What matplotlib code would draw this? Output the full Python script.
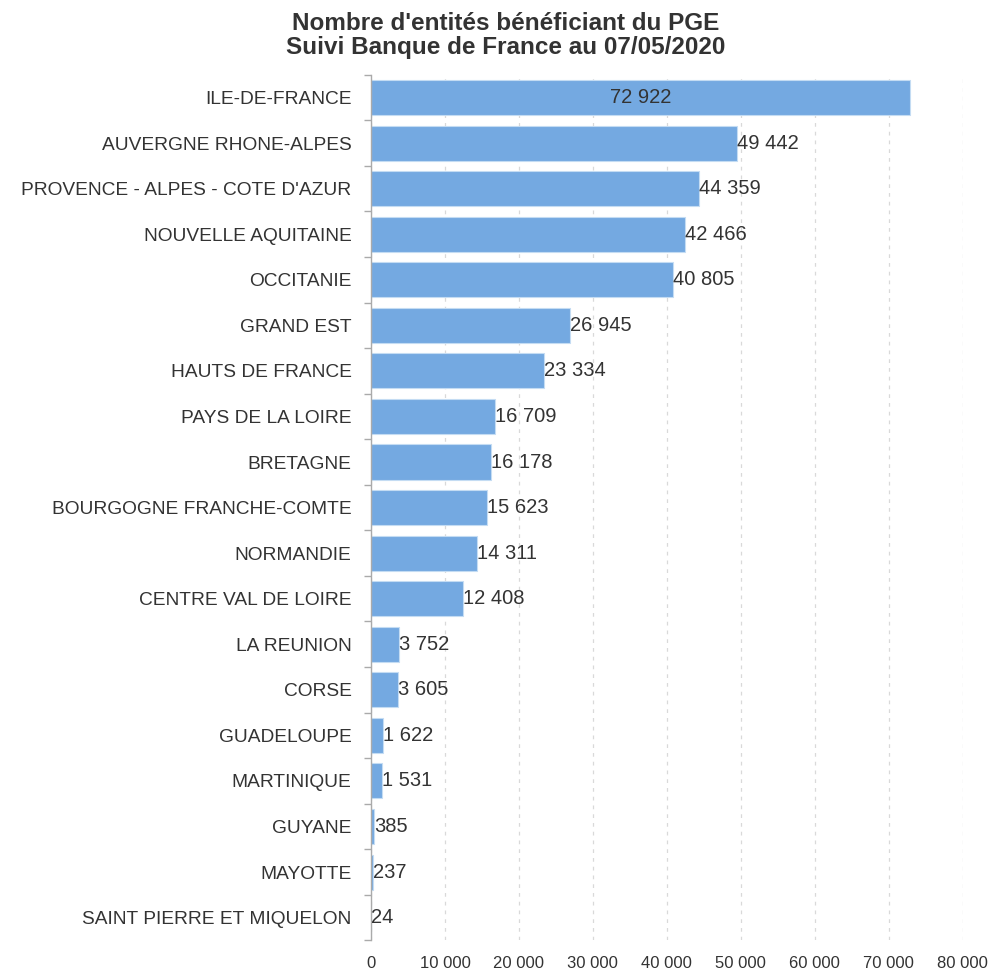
import matplotlib
matplotlib.use('Agg')
from matplotlib import pyplot as plt
from matplotlib.ticker import FuncFormatter, FixedLocator

regions = ['ILE-DE-FRANCE', 'AUVERGNE RHONE-ALPES', 'PROVENCE - ALPES - COTE D\'AZUR',
           'NOUVELLE AQUITAINE', 'OCCITANIE', 'GRAND EST', 'HAUTS DE FRANCE',
           'PAYS DE LA LOIRE', 'BRETAGNE', 'BOURGOGNE FRANCHE-COMTE', 'NORMANDIE',
           'CENTRE VAL DE LOIRE', 'LA REUNION', 'CORSE', 'GUADELOUPE', 'MARTINIQUE',
           'GUYANE', 'MAYOTTE', 'SAINT PIERRE ET MIQUELON']
entities = [72922, 49442, 44359, 42466, 40805, 26945, 23334, 16709, 16178, 15623,
            14311, 12408, 3752, 3605, 1622, 1531, 385, 237, 24]
x_ticks = [0, 10000, 20000, 30000, 40000, 50000, 60000, 70000, 80000]


def fmt(v):
    return f'{int(v):,}'.replace(',', ' ')


plt.rcParams['font.family'] = ['Liberation Sans', 'DejaVu Sans']
text_col = '#333333'

fig = plt.figure(figsize=(9.96, 9.71), dpi=100)
ax = fig.add_axes([0.3725, 0.0315, 0.594, 0.8915])

pos = list(range(len(regions)))
ax.barh(pos, entities, height=0.77, color='#74a9e1', edgecolor='#c4dcf3', linewidth=0.8, zorder=2)
ax.set_ylim(len(regions) - 0.5, -0.5)
ax.set_xlim(0, 80000)

for i, v in enumerate(entities):
    if v > 60000:
        ax.text(v / 2, i, fmt(v), ha='center', va='center', fontsize=14.5, color=text_col, zorder=3)
    else:
        ax.text(v, i, fmt(v), ha='left', va='center', fontsize=14.5, color=text_col, zorder=3)

ax.set_yticks(pos)
ax.set_yticklabels(regions, fontsize=13.8, color=text_col)
ax.yaxis.set_minor_locator(FixedLocator([p - 0.5 for p in pos] + [len(regions) - 0.5]))
ax.tick_params(axis='y', which='major', length=0, pad=14)
ax.tick_params(axis='y', which='minor', length=5, color='#aaaaaa', width=1)

ax.xaxis.set_major_locator(FixedLocator(x_ticks))
ax.xaxis.set_major_formatter(FuncFormatter(lambda v, p: fmt(v)))
ax.tick_params(axis='x', length=0, pad=11, labelsize=12, labelcolor=text_col)
ax.grid(axis='x', color='#d9d9d9', linestyle=(0, (3, 4)), linewidth=0.9, zorder=0)

for s in ['top', 'right', 'bottom']:
    ax.spines[s].set_visible(False)
ax.spines['left'].set_color('#aaaaaa')
ax.spines['left'].set_linewidth(1)

fig.suptitle('Nombre d\'entités bénéficiant du PGE\nSuivi Banque de France au 07/05/2020',
             x=0.508, y=0.988, fontsize=17.5, fontweight='bold', color=text_col, linespacing=1.1)

plt.savefig('out.png', dpi=100)
